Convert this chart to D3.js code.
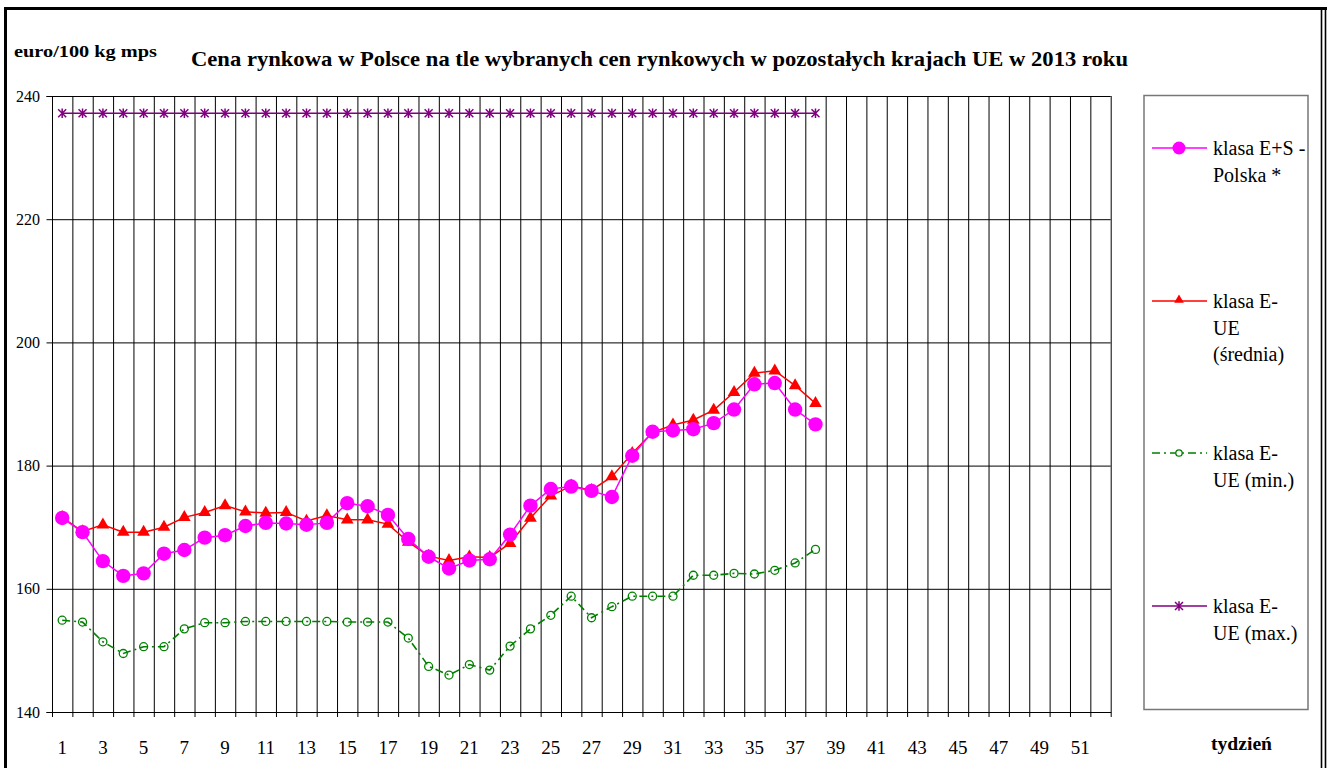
<!DOCTYPE html>
<html>
<head>
<meta charset="utf-8">
<script src="https://cdn.jsdelivr.net/npm/d3@7"></script>
<style>
	body { margin: 0; background: #fff; }
	svg text { font-family: "Liberation Serif", "Times New Roman", serif; }
</style>
</head>
<body>
<script>
const weeks = d3.range(1, 53);
const weekLabels = weeks.filter(d => d % 2 === 1);
const yTicks = [140, 160, 180, 200, 220, 240];

// klasa E+S - Polska *
const polska = [171.5, 169.2, 164.5, 162.1, 162.5, 165.7, 166.3, 168.3, 168.7, 170.2,
	170.7, 170.6, 170.4, 170.7, 173.9, 173.4, 172.0, 168.1, 165.2, 163.3,
	164.6, 164.8, 168.8, 173.5, 176.2, 176.6, 175.9, 174.9, 181.6, 185.5,
	185.7, 185.9, 186.9, 189.1, 193.2, 193.4, 189.1, 186.7];
// klasa E - UE (średnia)
const srednia = [171.6, 169.3, 170.4, 169.2, 169.2, 170.0, 171.6, 172.4, 173.5, 172.5,
	172.3, 172.4, 171.0, 171.9, 171.2, 171.2, 170.5, 167.6, 165.3, 164.6,
	165.2, 165.1, 167.4, 171.5, 175.1, 176.7, 176.0, 178.2, 182.0, 185.4,
	186.6, 187.4, 189.0, 191.9, 195.0, 195.4, 193.0, 190.1];
// klasa E - UE (min.)
const minimum = [154.9, 154.6, 151.4, 149.5, 150.6, 150.6, 153.5, 154.5, 154.5, 154.7,
	154.7, 154.7, 154.7, 154.7, 154.6, 154.6, 154.6, 152.0, 147.4, 146.0,
	147.7, 146.8, 150.7, 153.5, 155.7, 158.8, 155.3, 157.1, 158.8, 158.8,
	158.8, 162.2, 162.2, 162.5, 162.4, 163.0, 164.2, 166.4];
// klasa E - UE (max.)
const maksimum = [237.2, 237.2, 237.2, 237.2, 237.2, 237.2, 237.2, 237.2, 237.2, 237.2,
	237.2, 237.2, 237.2, 237.2, 237.2, 237.2, 237.2, 237.2, 237.2, 237.2,
	237.2, 237.2, 237.2, 237.2, 237.2, 237.2, 237.2, 237.2, 237.2, 237.2,
	237.2, 237.2, 237.2, 237.2, 237.2, 237.2, 237.2, 237.2];

const plot = { left: 52, right: 1110.7, top: 96, bottom: 712 };
const serif = '"Liberation Serif", "Times New Roman", serif';

const svg = d3.select('body').append('svg')
	.attr('width', 1332)
	.attr('height', 768);

// outer frame
svg.append('line').attr('x1', 4).attr('x2', 1327).attr('y1', 8.5).attr('y2', 8.5)
	.attr('stroke', '#000').attr('stroke-width', 3);
svg.append('line').attr('x1', 5.5).attr('x2', 5.5).attr('y1', 7).attr('y2', 768)
	.attr('stroke', '#000').attr('stroke-width', 3);
[1321.5, 1325.5].forEach(x => {
	svg.append('line').attr('x1', x).attr('x2', x).attr('y1', 7).attr('y2', 768)
		.attr('stroke', '#000').attr('stroke-width', 1.6);
});

let x = d3.scaleBand().domain(weeks).range([plot.left, plot.right]).padding(0);
let xb = d3.scaleLinear().domain([0, 52]).range([plot.left, plot.right]);
let y = d3.scaleLinear().domain([140, 240]).range([plot.bottom, plot.top]);
let cx = d => x(d) + x.bandwidth() / 2;

// horizontal gridlines
svg.append('g')
	.attr('transform', 'translate(' + plot.left + ',0)')
	.call(d3.axisLeft(y).tickValues(yTicks).tickSize(-(plot.right - plot.left)).tickFormat(''))
	.call(g => g.select('.domain').remove())
	.selectAll('line').attr('stroke', '#000');

// vertical gridlines at week boundaries
svg.append('g')
	.attr('transform', 'translate(0,' + plot.bottom + ')')
	.call(d3.axisTop(xb).tickValues(d3.range(0, 53)).tickSize(plot.bottom - plot.top).tickFormat(''))
	.call(g => g.select('.domain').remove())
	.selectAll('line').attr('stroke', '#000');

// small ticks below x axis
svg.append('g')
	.attr('transform', 'translate(0,' + plot.bottom + ')')
	.call(d3.axisBottom(xb).tickValues(d3.range(0, 53)).tickSize(5).tickSizeOuter(0).tickFormat(''))
	.call(g => g.select('.domain').attr('stroke', '#000'));

// x labels
svg.append('g')
	.attr('transform', 'translate(0,' + plot.bottom + ')')
	.call(d3.axisBottom(x).tickValues(weekLabels).tickSize(0).tickPadding(28.5))
	.call(g => g.select('.domain').remove())
	.attr('font-family', null)
	.selectAll('text')
	.style('font-family', serif)
	.style('font-size', '19px')
	.attr('fill', '#000');

// y axis
svg.append('g')
	.attr('transform', 'translate(' + plot.left + ',0)')
	.call(d3.axisLeft(y).tickValues(yTicks).tickSize(5.5).tickPadding(6.5))
	.call(g => g.select('.domain').attr('stroke', '#000'))
	.attr('font-family', null)
	.selectAll('text')
	.style('font-family', serif)
	.style('font-size', '16px')
	.attr('fill', '#000');

// ****************** series ***************************
let line = d3.line()
	.x((d, i) => cx(weeks[i]))
	.y(d => y(d));

const series = [
	{ data: maksimum, color: '#800080', width: 1.5, dash: null, marker: 'star' },
	{ data: minimum, color: '#008000', width: 1.6, dash: '8,4,2,4', marker: 'ring' },
	{ data: srednia, color: '#FF0000', width: 1.5, dash: null, marker: 'triangle' },
	{ data: polska, color: '#FF00FF', width: 1.5, dash: null, marker: 'circle' }
];

function drawMarker(g, s, px, py, big) {
	if (s.marker === 'circle') {
		g.append('circle').attr('cx', px).attr('cy', py).attr('r', 7.2)
			.attr('fill', s.color);
	} else if (s.marker === 'triangle') {
		let t = d3.symbol().type(d3.symbolTriangle).size(big ? 70 : 45);
		g.append('path').attr('d', t())
			.attr('transform', 'translate(' + px + ',' + py + ')')
			.attr('fill', s.color);
	} else if (s.marker === 'ring') {
		g.append('circle').attr('cx', px).attr('cy', py).attr('r', 4)
			.attr('fill', 'none').attr('stroke', s.color).attr('stroke-width', 1.3);
	} else {
		g.append('path')
			.attr('d', 'M-4,-4L4,4M-4,4L4,-4M0,-4.8L0,4.8')
			.attr('transform', 'translate(' + px + ',' + py + ')')
			.attr('fill', 'none').attr('stroke', s.color).attr('stroke-width', 1.5);
	}
}

series.forEach(s => {
	let g = svg.append('g');
	g.append('path')
		.datum(s.data)
		.attr('d', line)
		.attr('fill', 'none')
		.attr('stroke', s.color)
		.attr('stroke-width', s.width)
		.attr('stroke-dasharray', s.dash);
	s.data.forEach((v, i) => drawMarker(g, s, cx(weeks[i]), y(v), true));
});

// ****************** legend ***************************
svg.append('rect')
	.attr('x', 1144).attr('y', 95.5)
	.attr('width', 164).attr('height', 614)
	.attr('fill', 'none').attr('stroke', '#777').attr('stroke-width', 1.5);

const legendItems = [
	{ s: series[3], y: 148, lines: ['klasa E+S -', 'Polska *'] },
	{ s: series[2], y: 301, lines: ['klasa E-', 'UE', '(średnia)'] },
	{ s: series[1], y: 453, lines: ['klasa E-', 'UE (min.)'] },
	{ s: series[0], y: 606, lines: ['klasa E-', 'UE (max.)'] }
];

legendItems.forEach(item => {
	let g = svg.append('g');
	g.append('line')
		.attr('x1', 1152).attr('x2', 1207)
		.attr('y1', item.y).attr('y2', item.y)
		.attr('stroke', item.s.color).attr('stroke-width', 1.5)
		.attr('stroke-dasharray', item.s.dash);
	if (item.s.marker === 'triangle') {
		let t = d3.symbol().type(d3.symbolTriangle).size(40);
		g.append('path').attr('d', t())
			.attr('transform', 'translate(1179,' + (item.y - 1) + ')')
			.attr('fill', item.s.color);
	} else if (item.s.marker === 'circle') {
		g.append('circle').attr('cx', 1179).attr('cy', item.y).attr('r', 6.5)
			.attr('fill', item.s.color);
	} else if (item.s.marker === 'ring') {
		g.append('circle').attr('cx', 1179).attr('cy', item.y).attr('r', 3.2)
			.attr('fill', '#fff').attr('stroke', item.s.color).attr('stroke-width', 1.3);
	} else {
		drawMarker(g, item.s, 1179, item.y, false);
	}
	let text = g.append('text')
		.attr('x', 1213)
		.attr('y', item.y + 7)
		.style('font-family', serif)
		.style('font-size', '20px')
		.attr('fill', '#000');
	item.lines.forEach((l, i) => {
		text.append('tspan').attr('x', 1213).attr('dy', i === 0 ? 0 : 26.5).text(l);
	});
});

// ****************** titles ***************************
svg.append('text')
	.attr('x', 191).attr('y', 65.5)
	.style('font-family', serif)
	.style('font-size', '21px').style('font-weight', 'bold')
	.attr('textLength', 937).attr('lengthAdjust', 'spacingAndGlyphs')
	.text('Cena rynkowa w Polsce na tle wybranych cen rynkowych w pozostałych krajach UE w  2013 roku');

svg.append('text')
	.attr('x', 14).attr('y', 57)
	.style('font-family', serif)
	.style('font-size', '17px').style('font-weight', 'bold')
	.attr('textLength', 143).attr('lengthAdjust', 'spacingAndGlyphs')
	.text('euro/100 kg mps');

svg.append('text')
	.attr('x', 1211).attr('y', 750)
	.style('font-family', serif)
	.style('font-size', '19px').style('font-weight', 'bold')
	.attr('textLength', 61).attr('lengthAdjust', 'spacingAndGlyphs')
	.text('tydzień');
</script>
</body>
</html>
